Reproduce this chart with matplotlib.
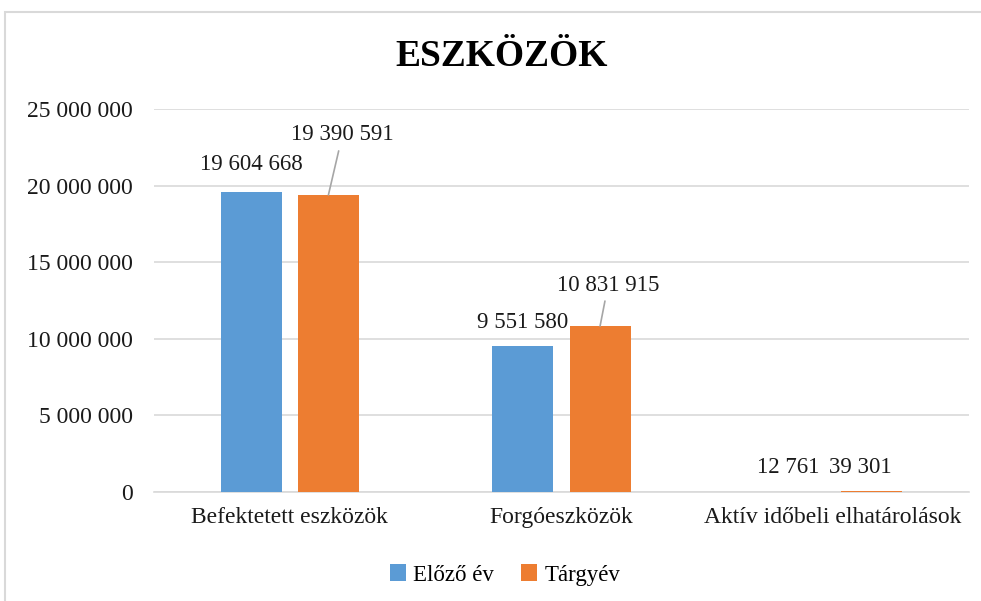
import matplotlib.pyplot as plt
import numpy as np
from matplotlib.patches import Rectangle

plt.rcParams['font.family'] = ['Liberation Serif', 'DejaVu Serif']

categories = ['Befektetett eszközök', 'Forgóeszközök', 'Aktív időbeli elhatárolások']
elozo_ev = [19604668, 9551580, 12761]
targyev = [19390591, 10831915, 39301]
series_names = ['Előző év', 'Tárgyév']
yticks = [0, 5000000, 10000000, 15000000, 20000000, 25000000]

blue = '#5B9BD5'
orange = '#ED7D31'
txt = '#1a1a1a'


def fmt(v):
    return f"{v:,}".replace(",", " ")


fig = plt.figure(figsize=(9.81, 6.01), dpi=100)
ax = fig.add_axes([154 / 981, 1 - 492 / 601, 815 / 981, 383 / 601])

x = np.arange(len(categories))
w = 0.225
off = 0.142
b1 = ax.bar(x - off, elozo_ev, w, color=blue, label=series_names[0], zorder=3)
b2 = ax.bar(x + off, targyev, w, color=orange, label=series_names[1], zorder=3)

ax.set_xlim(-0.5, 2.5)
ax.set_ylim(0, 25000000)
ax.set_yticks(yticks)
ax.set_yticklabels([fmt(t) for t in yticks])
ax.set_xticks(x)
ax.set_xticklabels(categories)
ax.tick_params(axis='y', length=0, pad=15, labelsize=17, labelcolor=txt)
ax.tick_params(axis='x', length=0, pad=11, labelsize=17, labelcolor=txt)
ax.grid(axis='y', color='#D9D9D9', linewidth=1.2, zorder=0)
for s in ['top', 'right', 'left']:
    ax.spines[s].set_visible(False)
ax.spines['bottom'].set_color('#D9D9D9')
ax.spines['bottom'].set_linewidth(1.2)

# data labels (offsets in pixels)
blue_offsets = [(0, 27), (0, 23), (-6, 24)]
orange_offsets = [(14, 60), (8, 41), (-11, 24)]
for i in range(len(categories)):
    ax.annotate(fmt(elozo_ev[i]), xy=(x[i] - off, elozo_ev[i]),
                xytext=blue_offsets[i], textcoords='offset pixels',
                ha='center', va='center', fontsize=16.5, color=txt)
    arrow = None
    if orange_offsets[i][1] > 30:
        arrow = dict(arrowstyle='-', color='#A6A6A6', lw=1.2, shrinkA=2, shrinkB=0)
    ax.annotate(fmt(targyev[i]), xy=(x[i] + off, targyev[i]),
                xytext=orange_offsets[i], textcoords='offset pixels',
                ha='center', va='center', fontsize=16.5, color=txt,
                arrowprops=arrow)

fig.text(502 / 981, 1 - 56 / 601, 'ESZKÖZÖK', ha='center', va='center',
         fontsize=27, fontweight='bold')

fig.legend(handles=[b1, b2], loc='center', bbox_to_anchor=(505 / 981, 1 - 575 / 601),
           ncol=2, frameon=False, fontsize=16.5, handlelength=0.7, handleheight=0.7,
           handletextpad=0.3, columnspacing=1.2)

fig.patches.append(Rectangle((5 / 981, -0.1), 1.2, 1 - 12 / 601 + 0.1,
                             transform=fig.transFigure, fill=False,
                             edgecolor='#D9D9D9', linewidth=1.5))

fig.savefig('out.png', dpi=100)
